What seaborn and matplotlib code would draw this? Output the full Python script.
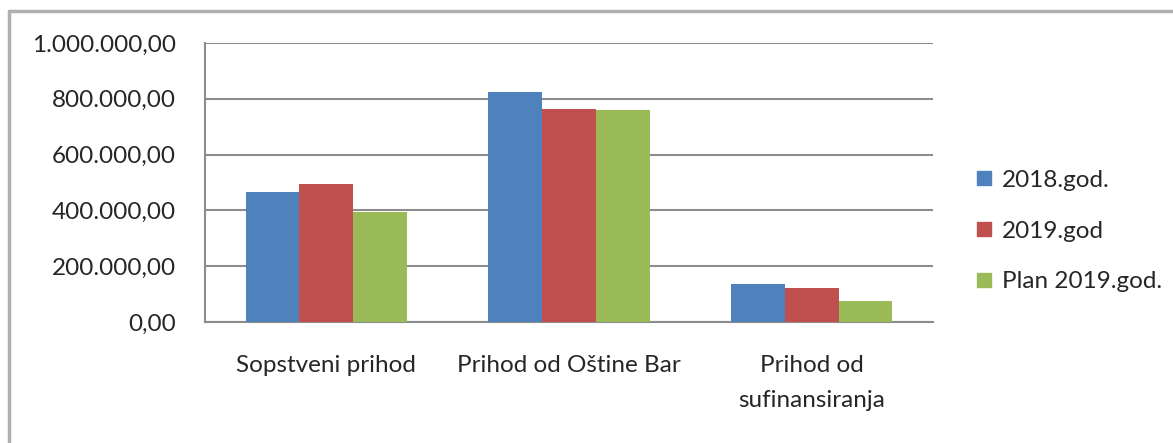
"""Prihodi po izvorima: 2018, 2019 i plan 2019."""

import matplotlib.pyplot as plt
import pandas as pd
import seaborn as sns
from matplotlib.lines import Line2D
from matplotlib.ticker import FuncFormatter, FixedLocator

CATEGORIES = ["Sopstveni prihod", "Prihod od Oštine Bar", "Prihod od\nsufinansiranja"]
SERIES = ["2018.god.", "2019.god", "Plan 2019.god."]
VALUES_2018 = [466000, 824000, 136000]
VALUES_2019 = [494000, 763000, 122000]
VALUES_PLAN = [394000, 760000, 75000]
COLORS = ["#4F81BD", "#C0504D", "#9BBB59"]

rows = []
for series, values in zip(SERIES, [VALUES_2018, VALUES_2019, VALUES_PLAN]):
    for cat, v in zip(CATEGORIES, values):
        rows.append({"kategorija": cat, "serija": series, "iznos": v})
df = pd.DataFrame(rows)

sns.set_style("white")
plt.rcParams["font.family"] = ["Lato", "DejaVu Sans"]
FS = 17.5

W, H = 1173, 443
fig = plt.figure(figsize=(W / 100, H / 100), dpi=100)
ax = fig.add_axes([205 / W, 1 - 322 / H, (933 - 205) / W, (322 - 43) / H])

sns.barplot(
    data=df,
    x="kategorija",
    y="iznos",
    hue="serija",
    hue_order=SERIES,
    order=CATEGORIES,
    palette=COLORS,
    width=0.665,
    saturation=1,
    linewidth=0,
    ax=ax,
    legend=False,
    zorder=3,
)

grid_color = "#8c8c8c"
ax.set_ylim(0, 1_000_000)
ax.set_xlim(-0.5, 2.5)
ax.set_yticks([0, 200000, 400000, 600000, 800000, 1000000])
ax.yaxis.set_major_formatter(
    FuncFormatter(lambda v, _: f"{v:,.2f}".replace(",", "X").replace(".", ",").replace("X", "."))
)
ax.grid(axis="y", color=grid_color, linewidth=1.5, zorder=0)
ax.set_axisbelow(True)

ax.xaxis.set_minor_locator(FixedLocator([-0.5, 0.5, 1.5, 2.5]))
ax.tick_params(axis="x", which="major", length=0, pad=24, labelsize=FS)
ax.tick_params(axis="x", which="minor", length=8, width=1.5, color=grid_color, direction="out")
ax.tick_params(axis="y", length=8, width=1.5, color=grid_color, direction="out", labelsize=FS, pad=13)
ax.set_xlabel("")
ax.set_ylabel("")
for lbl in ax.get_xticklabels():
    lbl.set_verticalalignment("top")
    lbl.set_linespacing(1.8)

for side in ["top", "right"]:
    ax.spines[side].set_visible(False)
for side in ["left", "bottom"]:
    ax.spines[side].set_color(grid_color)
    ax.spines[side].set_linewidth(1.5)

handles = [
    Line2D([], [], marker="s", linestyle="", markersize=10, markerfacecolor=c, markeredgecolor=c)
    for c in COLORS
]
fig.legend(
    handles,
    SERIES,
    loc="center left",
    bbox_to_anchor=(952 / W, 1 - 231 / H),
    frameon=False,
    fontsize=FS,
    labelspacing=1.23,
    handlelength=0.8,
    handletextpad=0.35,
)

# okvir grafikona (gore i lijevo)
fig.add_artist(Line2D([9 / W, 9 / W], [0, 1 - 11 / H], color="#b0b0b0", linewidth=2.5))
fig.add_artist(Line2D([9 / W, 1], [1 - 11 / H, 1 - 11 / H], color="#b0b0b0", linewidth=2.5))

fig.savefig("out.png", dpi=100)
